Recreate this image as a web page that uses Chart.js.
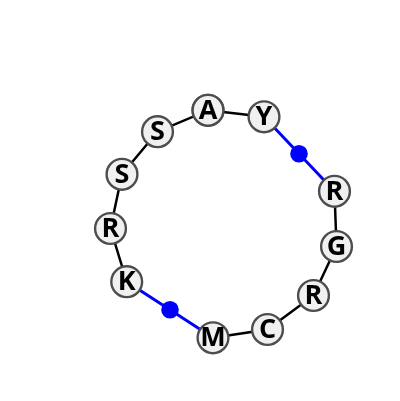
<!DOCTYPE html>
<html>
<head>
<meta charset="utf-8">
<style>
  html, body { margin: 0; padding: 0; background: #fff; }
  canvas { display: block; }
</style>
<script src="https://cdn.jsdelivr.net/npm/chart.js@4"></script>
</head>
<body>
<canvas id="ringChart" width="400" height="401"></canvas>
<script>
// ring nodes in order, empty label = blue link point
const labels = ['A', 'Y', '', 'R', 'G', 'R', 'C', 'M', '', 'K', 'R', 'S', 'S'];
const xValues = [208, 264, 299, 334.5, 336.5, 313.5, 267.5, 213, 170, 126.7, 110.5, 122, 157.5];
const yValues = [110.3, 116.8, 153.7, 191.3, 246.5, 295.5, 329.5, 337.8, 309.7, 281.7, 228.5, 174.3, 131.7];

const points = [...xValues, xValues[0]].map((x, i) => ({ x, y: [...yValues, yValues[0]][i] }));
const isLink = i => labels[i % labels.length] === '';

// === Residue letters on top of the circles ===
const letterPlugin = {
    id: 'letters',
    afterDatasetsDraw(chart) {
        const { ctx, scales } = chart;
        ctx.save();
        ctx.font = 'bold 27px "Open Sans"';
        ctx.fillStyle = '#000';
        ctx.textAlign = 'center';
        ctx.textBaseline = 'middle';
        labels.forEach((text, i) => {
            if (text) ctx.fillText(text, scales.x.getPixelForValue(xValues[i]), scales.y.getPixelForValue(yValues[i]) + 1);
        });
        ctx.restore();
    },
};

new Chart(document.getElementById('ringChart'), {
    type: 'scatter',
    data: {
        datasets: [{
            data: points,
            showLine: true,
            borderWidth: 2.5,
            borderColor: '#000',
            segment: {
                borderColor: c => (isLink(c.p0DataIndex) || isLink(c.p1DataIndex)) ? '#0000ff' : '#000',
                borderWidth: c => (isLink(c.p0DataIndex) || isLink(c.p1DataIndex)) ? 3 : 2.5,
            },
            pointRadius: c => isLink(c.dataIndex) ? 8.8 : 15.4,
            pointBackgroundColor: c => isLink(c.dataIndex) ? '#0000ff' : '#f0f0f0',
            pointBorderColor: c => isLink(c.dataIndex) ? '#0000ff' : '#4d4d4d',
            pointBorderWidth: c => isLink(c.dataIndex) ? 0 : 2.4,
        }],
    },
    options: {
        responsive: false,
        animation: false,
        layout: { padding: 0, autoPadding: false },
        plugins: { legend: { display: false }, tooltip: { enabled: false } },
        scales: {
            x: { type: 'linear', display: false, min: 0, max: 400 },
            y: { type: 'linear', display: false, min: 0, max: 401, reverse: true },
        },
    },
    plugins: [letterPlugin],
});
</script>
</body>
</html>
